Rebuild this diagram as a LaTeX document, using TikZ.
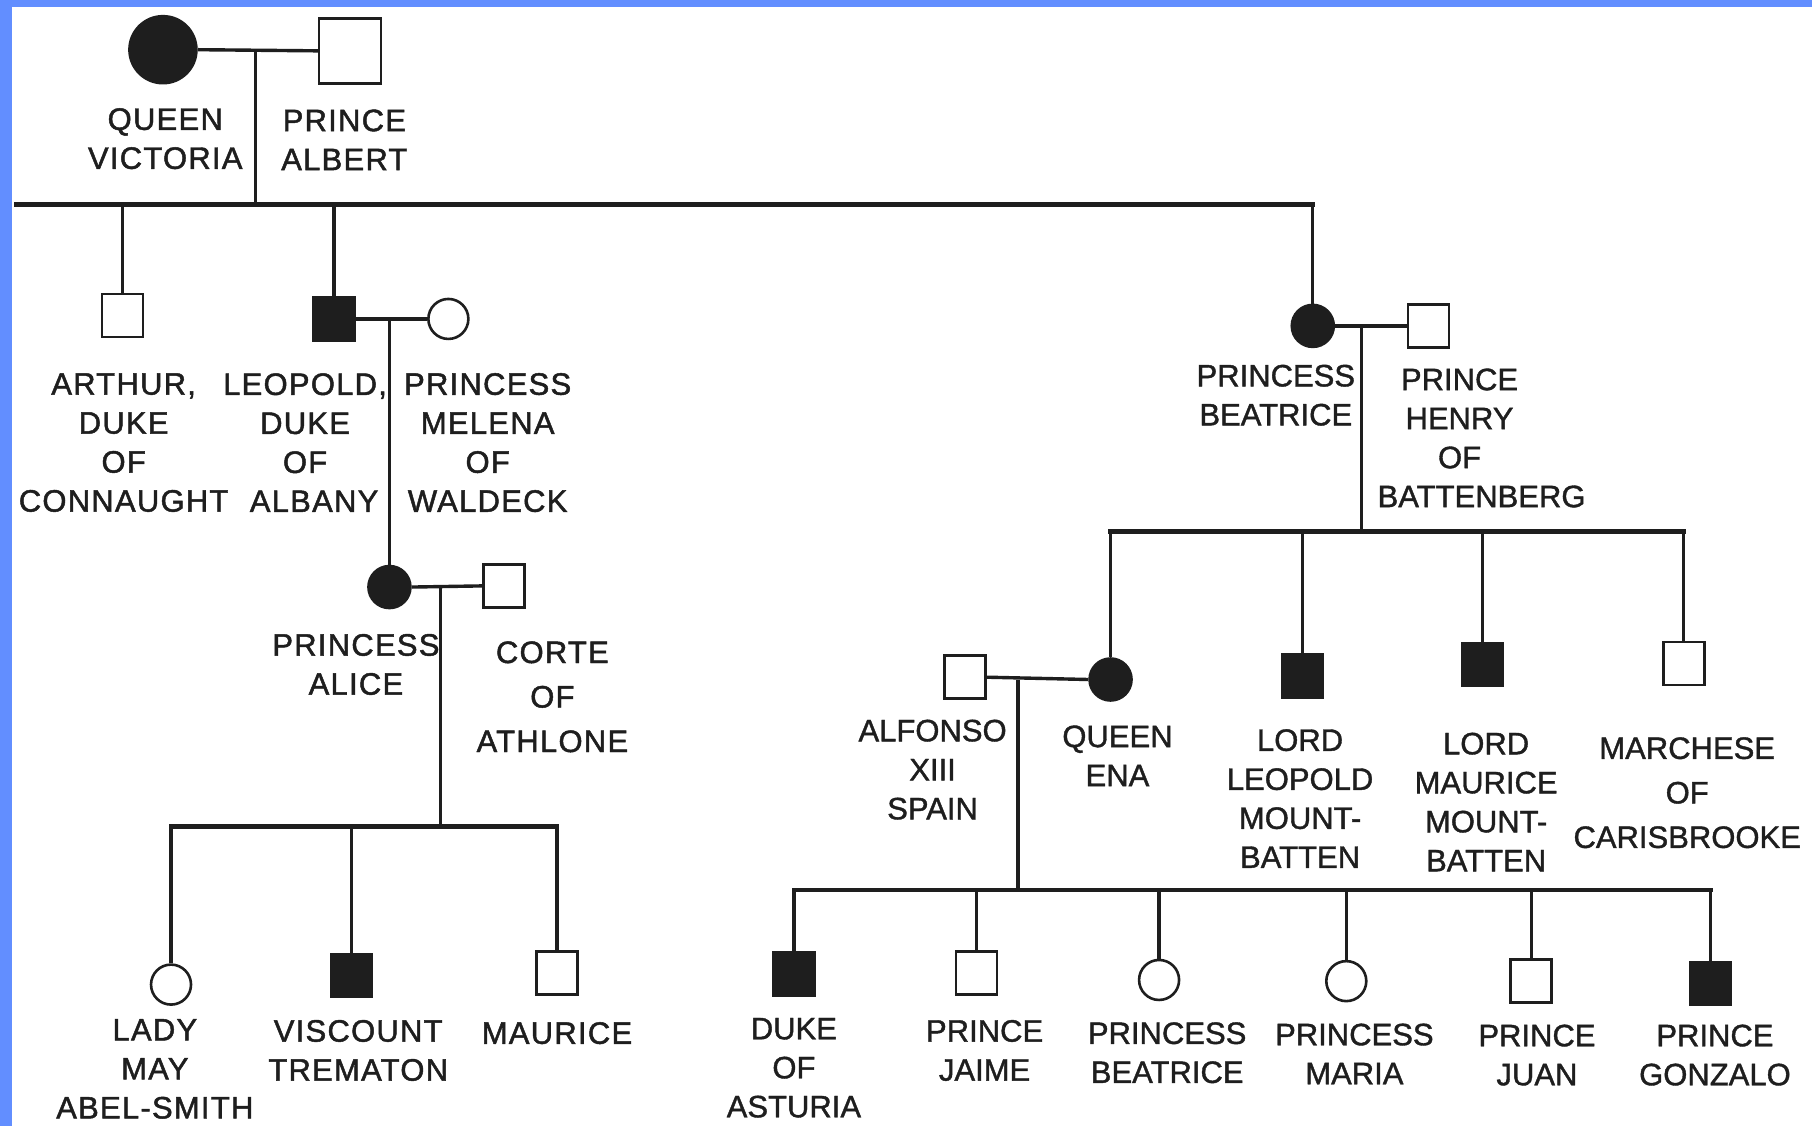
\documentclass[tikz,border=0pt]{standalone}
\usepackage{fontspec}
\setmainfont{Liberation Sans}[FakeBold=1.2]
\newfontfamily\widefont{Liberation Sans}[FakeBold=1.5,LetterSpace=4]
\definecolor{bord}{RGB}{98,142,255}
\definecolor{ink}{RGB}{30,30,30}
\begin{document}
\begin{tikzpicture}[x=1.1556pt,y=-1.1556pt,
  lbl/.style={align=center,font=\fontsize{31}{39}\selectfont,text=ink,inner sep=0pt},
  lblw/.style={lbl,font=\fontsize{31}{44.5}\selectfont},
  wl/.style={lbl,font=\widefont\fontsize{31}{39}\selectfont},
  wlw/.style={lbl,font=\widefont\fontsize{31}{44.5}\selectfont},
  sq/.style={draw=ink,rectangle,line width=2.6pt,minimum width=41pt,minimum height=43pt,inner sep=0pt,fill=white},
  sqf/.style={sq,fill=ink},
  ci/.style={draw=ink,circle,line width=2.6pt,minimum size=40pt,inner sep=0pt,fill=white},
  cif/.style={ci,fill=ink},
  ln/.style={draw=ink,line width=3.4pt},
  sib/.style={draw=ink,line width=4.6pt,line cap=rect}]
\useasboundingbox (0,0) rectangle (1568,974);
\fill[white] (0,0) rectangle (1568,974);

% ---------- generation I ----------
\node[cif,minimum size=67pt] (qv) at (141,43) {};
\node[sq,minimum width=62pt,minimum height=65pt] (pa) at (303,44) {};
\draw[ln] (qv.east) -- (pa.west);
\coordinate (m0) at (221,43);
\coordinate (s0) at (221,177);
\coordinate (s0l) at (14,177);
\draw[ln] (m0) -- (s0);
\node[wl] (qvl) at (143,120) {QUEEN\\VICTORIA};
\node[wl] (pal) at (298,121) {PRINCE\\ALBERT};

% ---------- generation II ----------
\node[sq] (ar) at (106,273) {};
\node[sqf] (le) at (289,276) {};
\node[ci] (he) at (388,276) {};
\node[cif,minimum size=42pt] (bea) at (1136,282) {};
\node[sq] (hen) at (1236,282) {};
\draw[sib] (s0l) -- (bea.north |- s0);
\draw[ln] (ar.north |- s0) -- (ar.north);
\draw[ln] (le.north |- s0) -- (le.north);
\draw[ln] (bea.north |- s0) -- (bea.north);
\draw[ln] (le.east) -- (he.west);
\draw[ln] (bea.east) -- (hen.west);
\node[wl] (arl) at (107,383) {ARTHUR,\\DUKE\\OF\\CONNAUGHT};
\node[wl] (lel) at (264,383) {LEOPOLD,\\DUKE\\OF\\\hspace*{18pt}ALBANY};
\node[wl] (hel) at (422,383) {PRINCESS\\MELENA\\OF\\WALDECK};
\node[lbl] (beal) at (1104,342) {PRINCESS\\BEATRICE};
\node[lbl] (henl) at (1263,379) {PRINCE\\HENRY\\OF\\\hspace*{44pt}BATTENBERG};

% ---------- Albany line ----------
\node[cif,minimum size=42pt] (al) at (337,508) {};
\node[sq] (ath) at (436,507) {};
\coordinate (m1) at (337,276);
\draw[ln] (m1) -- (al.north);
\draw[ln] (al.east) -- (ath.west);
\coordinate (m2) at (381,508);
\coordinate (s2) at (381,715);
\draw[ln] (m2) -- (s2);
\node[wl] (all) at (308,575) {PRINCESS\\ALICE};
\node[wlw] (athl) at (478,603) {CORTE\\OF\\ATHLONE};

\node[ci] (lm) at (148,852) {};
\node[sqf] (tre) at (304,844) {};
\node[sq] (mau) at (482,842) {};
\draw[sib] (lm.north |- s2) -- (mau.north |- s2);
\draw[ln] (lm.north |- s2) -- (lm.north);
\draw[ln] (tre.north |- s2) -- (tre.north);
\draw[ln] (mau.north |- s2) -- (mau.north);
\node[wl] (lml) at (134,925) {LADY\\MAY\\ABEL-SMITH};
\node[wl] (trel) at (310,909) {VISCOUNT\\TREMATON};
\node[wl] (maul) at (482,894) {MAURICE};

% ---------- Battenberg line ----------
\coordinate (m3) at (1178,282);
\coordinate (s3) at (1178,460);
\draw[ln] (m3) -- (s3);
\node[cif,minimum size=42pt] (ena) at (961,588) {};
\node[sq] (alf) at (835,586) {};
\node[sqf] (lmt) at (1127,585) {};
\node[sqf] (mmt) at (1283,575) {};
\node[sq] (mar) at (1457,574) {};
\draw[sib] (ena.north |- s3) -- (mar.north |- s3);
\draw[ln] (ena.north |- s3) -- (ena.north);
\draw[ln] (lmt.north |- s3) -- (lmt.north);
\draw[ln] (mmt.north |- s3) -- (mmt.north);
\draw[ln] (mar.north |- s3) -- (mar.north);
\draw[ln] (alf.east) -- (ena.west);
\node[lbl] (alfl) at (807,666) {ALFONSO\\XIII\\SPAIN};
\node[lbl] (enal) at (967,654) {QUEEN\\ENA};
\node[lbl] (lmtl) at (1125,691) {LORD\\LEOPOLD\\MOUNT-\\BATTEN};
\node[lbl] (mmtl) at (1286,694) {LORD\\MAURICE\\MOUNT-\\BATTEN};
\node[lblw] (marl) at (1460,686) {MARCHESE\\OF\\CARISBROOKE};

% ---------- Spanish line ----------
\coordinate (m4) at (881,588);
\coordinate (s4) at (881,770);
\draw[ln] (m4) -- (s4);
\node[sqf] (ast) at (687,843) {};
\node[sq] (jai) at (845,842) {};
\node[ci] (pbe) at (1003,848) {};
\node[ci] (mri) at (1165,849) {};
\node[sq] (jua) at (1325,849) {};
\node[sqf] (gon) at (1480,851) {};
\draw[sib] (ast.north |- s4) -- (gon.north |- s4);
\foreach \c in {ast,jai,pbe,mri,jua,gon}
  \draw[ln] (\c.north |- s4) -- (\c.north);
\node[lbl] (astl) at (687,924) {DUKE\\OF\\ASTURIA};
\node[lbl] (jail) at (852,909) {PRINCE\\JAIME};
\node[lbl] (pbel) at (1010,911) {PRINCESS\\BEATRICE};
\node[lbl] (mril) at (1172,912) {PRINCESS\\MARIA};
\node[lbl] (jual) at (1330,913) {PRINCE\\JUAN};
\node[lbl] (gonl) at (1484,913) {PRINCE\\GONZALO};

% ---------- frame ----------
\fill[bord] (0,0) rectangle (10,974);
\fill[bord] (0,0) rectangle (1568,6);
\end{tikzpicture}
\end{document}
